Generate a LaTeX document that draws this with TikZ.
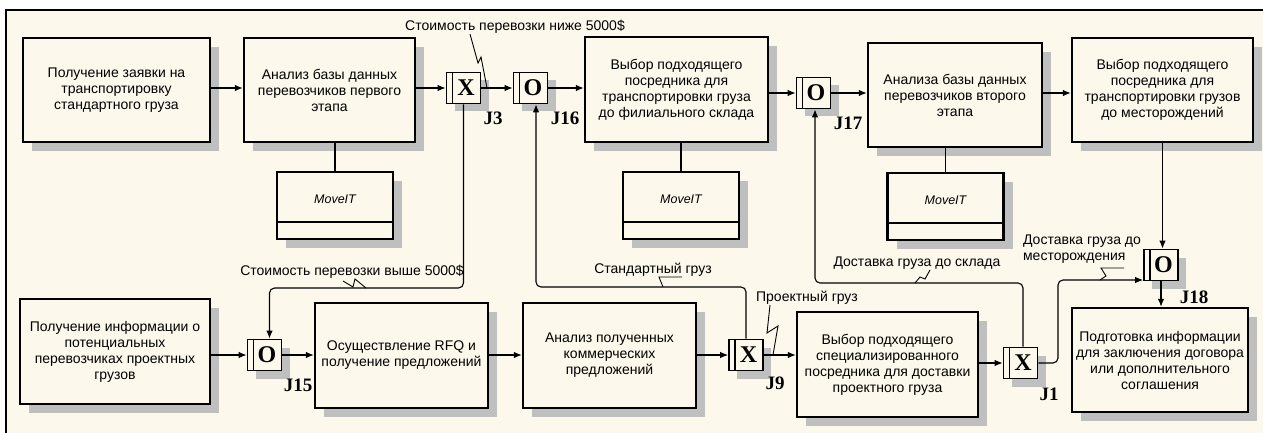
\documentclass[tikz,border=0pt]{standalone}
\usepackage{fontspec}
\setmainfont{Liberation Sans}
\newfontfamily\serifb{Liberation Serif}
\usetikzlibrary{arrows.meta,shadows}
\definecolor{cream}{RGB}{253,248,236}
\begin{document}
\begin{tikzpicture}[x=1pt,y=-1pt,
  every node/.style={font=\fontsize{14}{16}\selectfont},
  shad/.style={drop shadow={shadow xshift=9pt,shadow yshift=-9pt,opacity=1,fill=gray!50}},
  proc/.style={draw,line width=2.4pt,fill=cream,align=center,inner sep=0pt,shad},
  mech/.style={draw,line width=2.2pt,fill=cream,inner sep=0pt,minimum width=116pt,minimum height=67pt,shad,
    path picture={\draw[line width=2pt] ([yshift=17pt]path picture bounding box.south west) -- ([yshift=17pt]path picture bounding box.south east);}},
  mechtxt/.style={font=\itshape\fontsize{12.5}{14}\selectfont,inner sep=0pt},
  junc/.style={draw,line width=1.8pt,fill=cream,minimum width=34pt,minimum height=31pt,inner sep=0pt,
    font=\serifb\bfseries\fontsize{24}{24}\selectfont,
    drop shadow={shadow xshift=8pt,shadow yshift=-8pt,opacity=1,fill=gray!50},
    path picture={\draw[line width=1.5pt] ([xshift=6pt]path picture bounding box.north west) -- ([xshift=6pt]path picture bounding box.south west);}},
  jlab/.style={font=\serifb\bfseries\fontsize{19}{19}\selectfont,inner sep=0pt},
  lab/.style={inner sep=0pt},
  arr/.style={-{Latex[length=8pt,width=6.5pt]},line width=1.1pt},
  ln/.style={line width=1.1pt},
  sq/.style={line width=0.9pt}
]
\useasboundingbox (0,0) rectangle (1263,433);
\fill[white] (0,0) rectangle (1263,433);
\fill[cream] (6,10) rectangle (1263,433);
\draw[line width=2.5pt] (6,433) -- (6,10) -- (1263,10);

% row coordinates
\coordinate (r1) at (0,88);
\coordinate (r1b) at (0,93);
\coordinate (r2) at (0,355);
\coordinate (r2b) at (0,363);

% top row
\node[proc,minimum width=187pt,minimum height=104pt] (A) at (116.5,90) {Получение заявки на\\транспортировку\\стандартного груза};
\node[proc,minimum width=171pt,minimum height=104pt] (B) at (329.5,90) {Анализ базы данных\\перевозчиков первого\\этапа};
\node[mech] (M1) at (335,205.5) {};
\node[mechtxt] (M1t) at ([yshift=6pt]M1.center) {MoveIT};
\node[junc] (J3) at (463.5,88) {\hspace{5pt}X};
\node[junc] (J16) at (530.5,88) {\hspace{5pt}O};
\node[proc,minimum width=183pt,minimum height=105pt] (C) at (676.5,89.5) {Выбор подходящего\\посредника для\\транспортировки груза\\до филиального склада};
\node[mech] (M2) at (681,205.5) {};
\node[mechtxt] (M2t) at ([yshift=6pt]M2.center) {MoveIT};
\node[junc] (J17) at (813.5,93) {\hspace{5pt}O};
\node[proc,minimum width=174pt,minimum height=104pt] (D) at (955,95) {Анализа базы данных\\перевозчиков второго\\этапа};
\node[mech] (M3) at (945.5,206.5) {};
\node[mechtxt] (M3t) at ([yshift=6pt]M3.center) {MoveIT};
\node[proc,minimum width=181pt,minimum height=104pt] (E) at (1162.5,90) {Выбор подходящего\\посредника для\\транспортировки грузов\\до месторождений};
\node[junc] (J18) at (1161,265) {\hspace{5pt}O};
\node[proc,minimum width=176pt,minimum height=104pt] (F) at (1160,360) {Подготовка информации\\для заключения договора\\или дополнительного\\соглашения};

% bottom row
\node[proc,minimum width=190pt,minimum height=105pt] (G) at (115,351.5) {Получение информации о\\потенциальных\\перевозчиках проектных\\грузов};
\node[junc] (J15) at (264.5,355) {\hspace{5pt}O};
\node[proc,minimum width=173pt,minimum height=105pt] (H) at (401.5,355.5) {Осуществление RFQ и\\получение предложений};
\node[proc,minimum width=173pt,minimum height=105pt] (I) at (609.5,355.5) {Анализ полученных\\коммерческих\\предложений};
\node[junc] (J9) at (746,355) {\hspace{5pt}X};
\node[proc,minimum width=181pt,minimum height=105pt] (J) at (887.5,364.5) {Выбор подходящего\\специализированного\\посредника для доставки\\проектного груза};
\node[junc] (J1) at (1020.5,363) {\hspace{5pt}X};

% junction labels
\node[jlab] (lJ3) at (493,118) {J3};
\node[jlab] (lJ16) at (565,118) {J16};
\node[jlab] (lJ17) at (848,123) {J17};
\node[jlab] (lJ18) at (1194,297) {J18};
\node[jlab] (lJ15) at (298,385) {J15};
\node[jlab] (lJ9) at (775,383) {J9};
\node[jlab] (lJ1) at (1049,394) {J1};

% mechanism links
\draw[ln] (B.south -| M1.north) -- (M1.north);
\draw[ln] (C.south -| M2.north) -- (M2.north);
\draw[ln] (D.south -| M3.north) -- (M3.north);

% top row flow
\draw[arr] (A.east |- r1) -- (B.west |- r1);
\draw[arr] (B.east |- r1) -- (J3.west |- r1);
\draw[arr] (J3.east |- r1) -- (J16.west |- r1);
\draw[arr] (J16.east |- r1) -- (C.west |- r1);
\draw[arr] (C.east |- r1b) -- (J17.west |- r1b);
\draw[arr] (J17.east |- r1b) -- (D.west |- r1b);
\draw[arr] (D.east |- r1b) -- (E.west |- r1b);
\draw[arr] (E.south) -- (E.south |- J18.north);
\draw[arr] (J18.south) -- (J18.south |- F.north);

% bottom row flow
\draw[arr] (G.east |- r2) -- (J15.west |- r2);
\draw[arr] (J15.east |- r2) -- (H.west |- r2);
\draw[arr] (H.east |- r2) -- (I.west |- r2);
\draw[arr] (I.east |- r2) -- (J9.west |- r2);
\draw[arr] (J9.east |- r2) -- (J.west |- r2);
\draw[arr] (J.east |- r2b) -- (J1.west |- r2b);

% cross links
\coordinate (c1) at (0,288);
\coordinate (c2) at (0,287);
\coordinate (c3) at (0,283);
\coordinate (c4) at (1058,280);
\draw[arr,rounded corners=5pt] (J3.south) -- (J3.south |- c1) -- ([xshift=5pt]J15.north |- c1) -- ([xshift=5pt]J15.north);
\draw[arr,rounded corners=5pt] (J9.north) -- (J9.north |- c2) -- ([xshift=5.5pt]J16.south |- c2) -- ([xshift=5.5pt]J16.south);
\draw[arr,rounded corners=5pt] ([xshift=2.5pt]J1.north) -- ([xshift=2.5pt]J1.north |- c3) -- ([xshift=1.5pt]J17.south |- c3) -- ([xshift=1.5pt]J17.south);
\draw[arr,rounded corners=5pt] (J1.east |- r2b) -- (c4 |- r2b) -- (c4) -- (J18.west |- c4);

% arrow labels
\node[lab] (L1) at (515,27) {Стоимость перевозки ниже 5000\$};
\node[lab] (L2) at (352,272) {Стоимость перевозки выше 5000\$};
\node[lab] (L3) at (653,270) {Стандартный груз};
\node[lab] (L4) at (807,298) {Проектный груз};
\node[lab] (L5) at (917,263) {Доставка груза до склада};
\node[lab,align=left] (L6) at (1082,249.5) {Доставка груза до\\месторождения};

% label squiggles
\coordinate (s1) at (487,88);
\draw[sq] (470,34) -- (478,63) -- (481,57) -- (s1);
\coordinate (s2) at (366,288);
\draw[sq] (343,281) -- (353,287) -- (355,279) -- (s2);
\coordinate (s3) at (663,287);
\draw[sq] (682,277) -- (659,277) -- (s3);
\coordinate (s4) at (773,355);
\draw[sq] (770,305) -- (767,333) -- (778,326) -- (s4);
\coordinate (s5) at (915,283);
\draw[sq] (930,270) -- (925,279) -- (920,277) -- (s5);
\coordinate (s6) at (1100,280);
\draw[sq] (1124,268) -- (1101,268) -- (1106,276) -- (s6);
\end{tikzpicture}
\end{document}
